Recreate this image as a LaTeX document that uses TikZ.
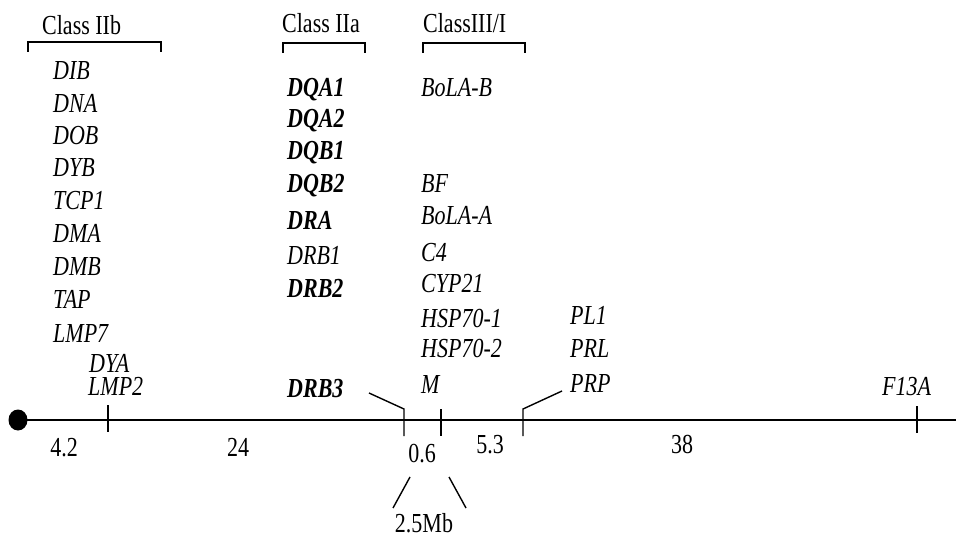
\documentclass[tikz,border=0pt]{standalone}
\usepackage{fontspec}
\setmainfont{Liberation Serif}[FakeStretch=0.8]
\begin{document}
\begin{tikzpicture}[x=1pt,y=-1pt,
  lbl/.style={anchor=base west,inner sep=0pt,text depth=0pt,font=\fontsize{27.5}{30}\selectfont},
  gene/.style={lbl,font=\fontsize{27.5}{30}\selectfont\itshape},
  bgene/.style={lbl,font=\fontsize{27.5}{30}\selectfont\bfseries\itshape},
  num/.style={anchor=base,inner sep=0pt,text depth=0pt,font=\fontsize{27.5}{30}\selectfont},
  ln/.style={line width=1.4pt}]
\useasboundingbox (0,0) rectangle (956,537);
% headers
\node[lbl] (h2b) at (42,35) {Class IIb};
\node[lbl] (h2a) at (282,33) {Class IIa};
\node[lbl] (h3) at (423,33) {ClassIII/I};
\draw[ln] (28,52) -- (28,42) -- (161,42) -- (161,52);
\draw[ln] (283,53) -- (283,43) -- (365,43) -- (365,53);
\draw[ln] (423,53) -- (423,43) -- (525,43) -- (525,53);
% class IIb
\node[gene] (g1) at (53,80) {DIB};
\node[gene] (g2) at (53,113) {DNA};
\node[gene] (g3) at (53,145) {DOB};
\node[gene] (g4) at (53,177) {DYB};
\node[gene] (g5) at (53,210) {TCP1};
\node[gene] (g6) at (53,243) {DMA};
\node[gene] (g7) at (53,276) {DMB};
\node[gene] (g8) at (53,309) {TAP};
\node[gene] (g9) at (53,342) {LMP7};
\node[gene] (g10) at (89,372) {DYA};
\node[gene] (g11) at (88,395) {LMP2};
% class IIa
\node[bgene] (a1) at (287,97) {DQA1};
\node[bgene] (a2) at (287,128) {DQA2};
\node[bgene] (a3) at (287,160) {DQB1};
\node[bgene] (a4) at (287,193) {DQB2};
\node[bgene] (a5) at (287,230) {DRA};
\node[gene] (a6) at (287,265) {DRB1};
\node[bgene] (a7) at (287,298) {DRB2};
\node[bgene] (a8) at (287,397) {DRB3};
% class III/I
\node[gene] (c1) at (421,97) {BoLA-B};
\node[gene] (c2) at (421,193) {BF};
\node[gene] (c3) at (421,225) {BoLA-A};
\node[gene] (c4) at (421,262) {C4};
\node[gene] (c5) at (421,293) {CYP21};
\node[gene] (c6) at (421,327) {HSP70-1};
\node[gene] (c7) at (421,358) {HSP70-2};
\node[gene] (c8) at (421,393) {M};
% P genes
\node[gene] (p1) at (570,325) {PL1};
\node[gene] (p2) at (570,358) {PRL};
\node[gene] (p3) at (570,392) {PRP};
\node[gene] (f1) at (882,395) {F13A};
% main line
\coordinate (start) at (18,420);
\coordinate (end) at (956,420);
\draw[ln] (start) -- (end);
\fill (start) ellipse [x radius=9.5, y radius=10.5];
% ticks
\draw[ln] (108,405) -- (108,432);
\draw[ln] (369,393) -- (404,409) -- (404,436);
\draw[ln] (441,409) -- (441,436);
\draw[ln] (562,391) -- (523,409) -- (523,436);
\draw[ln] (917,406) -- (917,433);
% distances
\node[num] (n1) at (64,456) {4.2};
\node[num] (n2) at (238,456) {24};
\node[num] (n3) at (422,462) {0.6};
\node[num] (n4) at (490,453) {5.3};
\node[num] (n5) at (682,453) {38};
\node[num] (n6) at (424,532) {2.5Mb};
\draw[ln] (410,477) -- (393,508);
\draw[ln] (449,477) -- (466,508);
\end{tikzpicture}
\end{document}
